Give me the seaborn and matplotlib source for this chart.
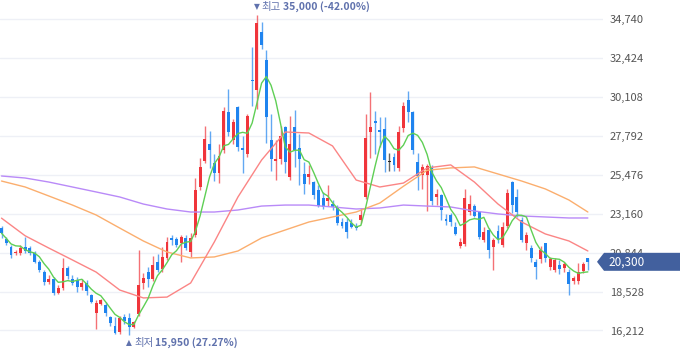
import numpy as np
import pandas as pd
import matplotlib
matplotlib.use("Agg")
import matplotlib.pyplot as plt
from matplotlib.patches import Polygon
import seaborn as sns

# daily candles, oldest first (KRW)
opens = [22300, 21650, 21200, 20800, 20850, 21200, 21100, 20850, 20300, 19700,
         19100, 19250, 18450, 18750, 19950, 19300, 19200, 18800, 19050, 18300,
         17250, 17800, 17750, 17000, 16450, 16100, 17000, 16950, 16400, 17200,
         19050, 19700, 19250, 20300, 19900, 20500, 21700, 21650, 21400, 21700,
         20900, 21900, 24750, 26300, 27300, 26200, 25600, 26950, 29200, 27550,
         29500, 27050, 26700, 31150, 30550, 34000, 32300, 27550, 26300, 26400,
         28300, 25350, 28350, 27100, 25500, 25350, 25050, 24600, 24100, 23900,
         23750, 23550, 22700, 22700, 22600, 22450, 22800, 24150, 28000, 28700,
         28150, 28200, 26250, 26550, 25900, 28250, 29950, 29200, 26250, 25450,
         25450, 25900, 24150, 24250, 22850, 23100, 22400, 21250, 21350, 23250,
         23600, 23250, 21600, 22200, 21200, 22150, 21300, 22450, 25050, 24150,
         22800, 21450, 21100, 20300, 20450, 21400, 20000, 19800, 20100, 19950,
         19700, 19150, 19150, 19750, 20500]
highs = [22430, 21800, 21300, 21000, 21300, 21750, 21250, 20950, 20400, 19800,
         19500, 19400, 18900, 20550, 20050, 19500, 19400, 19250, 19200, 18400,
         18000, 18100, 17900, 17100, 17000, 17050, 17200, 17250, 16750, 21000,
         19650, 20000, 20650, 20750, 21200, 21750, 21900, 21800, 21900, 21900,
         22000, 25300, 26500, 28400, 28100, 26700, 27300, 29500, 30600, 28800,
         29600, 27800, 29100, 33100, 35000, 34550, 32900, 29100, 27550, 28400,
         28400, 29000, 29350, 27900, 26250, 26050, 25100, 24900, 24450, 24900,
         24000, 23700, 22900, 22900, 22850, 22600, 23500, 29100, 30400, 29300,
         28900, 28900, 26800, 26800, 28400, 29800, 30450, 29300, 26800, 26150,
         26100, 26050, 24650, 24350, 23150, 23200, 22650, 21700, 24650, 24250,
         23750, 23350, 22400, 22300, 21700, 22500, 22700, 24650, 25100, 24650,
         22950, 22100, 21300, 20450, 21250, 21450, 20600, 20500, 20400, 20300,
         19850, 19450, 20200, 20300, 20550]
lows = [21700, 21300, 20550, 20700, 20700, 20800, 20700, 20200, 19700, 18900,
        18950, 18350, 18400, 18650, 19250, 18900, 18500, 18600, 18350, 17850,
        16300, 17700, 17050, 16450, 15980, 15990, 16600, 15950, 16350, 17100,
        18700, 18800, 19150, 19700, 19700, 20400, 21300, 21200, 20300, 21000,
        20600, 21800, 24600, 26200, 25900, 25100, 25000, 26800, 27800, 27300,
        26900, 25600, 26550, 29600, 29400, 33000, 27400, 25700, 25200, 26150,
        25600, 25200, 25950, 24850, 24350, 24950, 24050, 23550, 23450, 23650,
        23400, 22500, 22300, 21700, 22300, 22200, 22600, 24050, 26500, 26700,
        27150, 25650, 25700, 25700, 25700, 28050, 28650, 26700, 24600, 24650,
        23300, 23700, 23700, 22800, 22500, 22450, 21900, 21150, 21250, 23100,
        22950, 21650, 21500, 20500, 19800, 21400, 21200, 22300, 23200, 22950,
        21500, 21000, 20300, 19300, 20200, 20300, 19800, 19700, 19600, 19700,
        18350, 19000, 19000, 19650, 19800]
closes = [22000, 21400, 20700, 20900, 21150, 20950, 20800, 20300, 19800, 19100,
          19300, 18450, 18750, 19950, 19450, 19050, 18800, 19050, 18550, 17900,
          17850, 18050, 17250, 16650, 16050, 16950, 16750, 16400, 16700, 18900,
          19350, 19250, 20100, 19800, 20600, 21500, 21600, 21300, 21800, 21150,
          21700, 24600, 25950, 27600, 26950, 25600, 26600, 29300, 28000, 28650,
          27150, 26950, 29000, 31050, 34500, 33200, 28900, 26400, 26400, 27800,
          26250, 27300, 26950, 26450, 24950, 25550, 24250, 23650, 23550, 24100,
          23550, 22600, 22450, 22100, 22400, 22300, 23100, 27700, 28300, 28550,
          28000, 26350, 26250, 26050, 28050, 29550, 29200, 26950, 25400, 25950,
          26000, 23900, 24350, 23400, 22750, 22700, 21950, 21500, 24100, 23750,
          23050, 21750, 22100, 21000, 21600, 21650, 22400, 24400, 23700, 23250,
          21600, 21900, 20550, 20000, 21000, 20550, 20450, 20400, 19850, 20150,
          19000, 19350, 19700, 20150, 20300]

# longer moving averages, read every 5 sessions (they need history before the window)
ma_idx = [0, 5, 10, 15, 20, 25, 30, 35, 40, 45, 50, 55, 60, 65, 70, 75, 80,
          85, 90, 95, 100, 105, 110, 115, 120, 124]
ma20 = [22900, 21850, 21120, 20410, 19690, 18620, 18150, 18200, 19040, 21480,
        24160, 26360, 28030, 27970, 27200, 25170, 24755, 24990, 25890, 26070,
        25050, 23740, 22670, 21960, 21540, 20945]
ma60 = [25110, 24755, 24220, 23680, 23090, 22310, 21540, 20885, 20530, 20590,
        20945, 21720, 22195, 22670, 22970, 23265, 23800, 24800, 25750, 25890,
        25950, 25530, 25110, 24640, 23980, 23265]
ma120 = [25410, 25290, 25050, 24755, 24460, 24160, 23740, 23445, 23265, 23265,
         23385, 23620, 23680, 23680, 23565, 23445, 23505, 23680, 23620, 23565,
         23325, 23150, 23030, 22970, 22910, 22910]

y_ticks = [16212, 18528, 20844, 23160, 25476, 27792, 30108, 32424, 34740]

RED = "#f0353b"
BLUE = "#1f84ef"
LBL = "#6072ad"

sns.set_theme(style="white")
plt.rcParams["font.family"] = ["Noto Sans CJK KR", "DejaVu Sans"]

df = pd.DataFrame({"o": opens, "h": highs, "l": lows, "c": closes})
df["i"] = np.arange(len(df))
df["ma5"] = df["c"].rolling(5, min_periods=1).mean()

fig = plt.figure(figsize=(6.8, 3.58), dpi=100)
ax = fig.add_axes([0, 0, 603 / 680, 1])

colors = np.where(df.c > df.o, RED, np.where(df.c < df.o, BLUE, "#222222"))
ax.vlines(df.i, df.l, df.h, colors=colors, lw=1, alpha=0.7, zorder=2)
body = (df.c - df.o).abs().clip(lower=70)
bottom = np.minimum(df.o, df.c) - (body - (df.c - df.o).abs()) / 2
ax.bar(df.i, body, bottom=bottom, width=0.62, color=colors, linewidth=0, zorder=3)

# moving average lines
ma = pd.concat([
    pd.DataFrame({"i": ma_idx, "v": ma120, "ma": "120"}),
    pd.DataFrame({"i": ma_idx, "v": ma60, "ma": "60"}),
    pd.DataFrame({"i": ma_idx, "v": ma20, "ma": "20"}),
    pd.DataFrame({"i": df.i, "v": df.ma5, "ma": "5"}),
])
pal = {"120": "#b98af8", "60": "#fbae6e", "20": "#fb8585", "5": "#5fcf55"}
sns.lineplot(data=ma, x="i", y="v", hue="ma", palette=pal, lw=1,
             legend=False, ax=ax, zorder=4)

ax.set_xlim(-0.32, 127.2)
ax.set_ylim(14573, 35889)
ax.set_xticks([])
ax.yaxis.tick_right()
ax.set_yticks(y_ticks)
ax.set_yticklabels([f"{t:,}" for t in y_ticks])
ax.tick_params(axis="y", length=0, pad=5, labelsize=8, labelcolor="#555555")
ax.set_xlabel("")
ax.set_ylabel("")
ax.grid(axis="y", color="#eef0f6", lw=1)
ax.set_axisbelow(True)
for s in ax.spines.values():
    s.set_visible(False)

# high / low markers
last = closes[-1]
ih = int(np.argmax(highs))
il = int(np.argmin(lows))
hi_txt = f"{highs[ih]:,} ({(last - highs[ih]) / highs[ih] * 100:.2f}%)"
lo_txt = f"{lows[il]:,} ({(last - lows[il]) / lows[il] * 100:.2f}%)"


def mark(i, v, arrow, word, txt, dy):
    a = ax.annotate(arrow, xy=(i, v), xytext=(-3, dy), textcoords="offset pixels",
                    ha="left", va="center", color=LBL, fontsize=5.5,
                    family="DejaVu Sans")
    w = ax.annotate(word, xy=(1, 0.5), xycoords=a, xytext=(2, 0),
                    textcoords="offset pixels", ha="left", va="center",
                    color=LBL, fontsize=7.5)
    ax.annotate(txt, xy=(1, 0.5), xycoords=w, xytext=(2, 0),
                textcoords="offset pixels", ha="left", va="center",
                color=LBL, fontsize=7.5, fontweight="bold")


mark(ih, highs[ih], "▼", "최고", hi_txt, 8)
mark(il, lows[il], "▲", "최저", lo_txt, -8)

# current price tag
fig.canvas.draw()
yd = ax.transData.transform((0, last))[1]
tag = Polygon([(597, yd), (604, yd + 9), (682, yd + 9), (682, yd - 9), (604, yd - 9)],
              closed=True, transform=None, fc="#42609e", ec="none", zorder=10)
fig.patches.append(tag)
fig.text(608 / 680, yd / 358, f"{last:,}", ha="left", va="center",
         color="white", fontsize=8.5, zorder=11)

fig.savefig("out.png", dpi=100)
